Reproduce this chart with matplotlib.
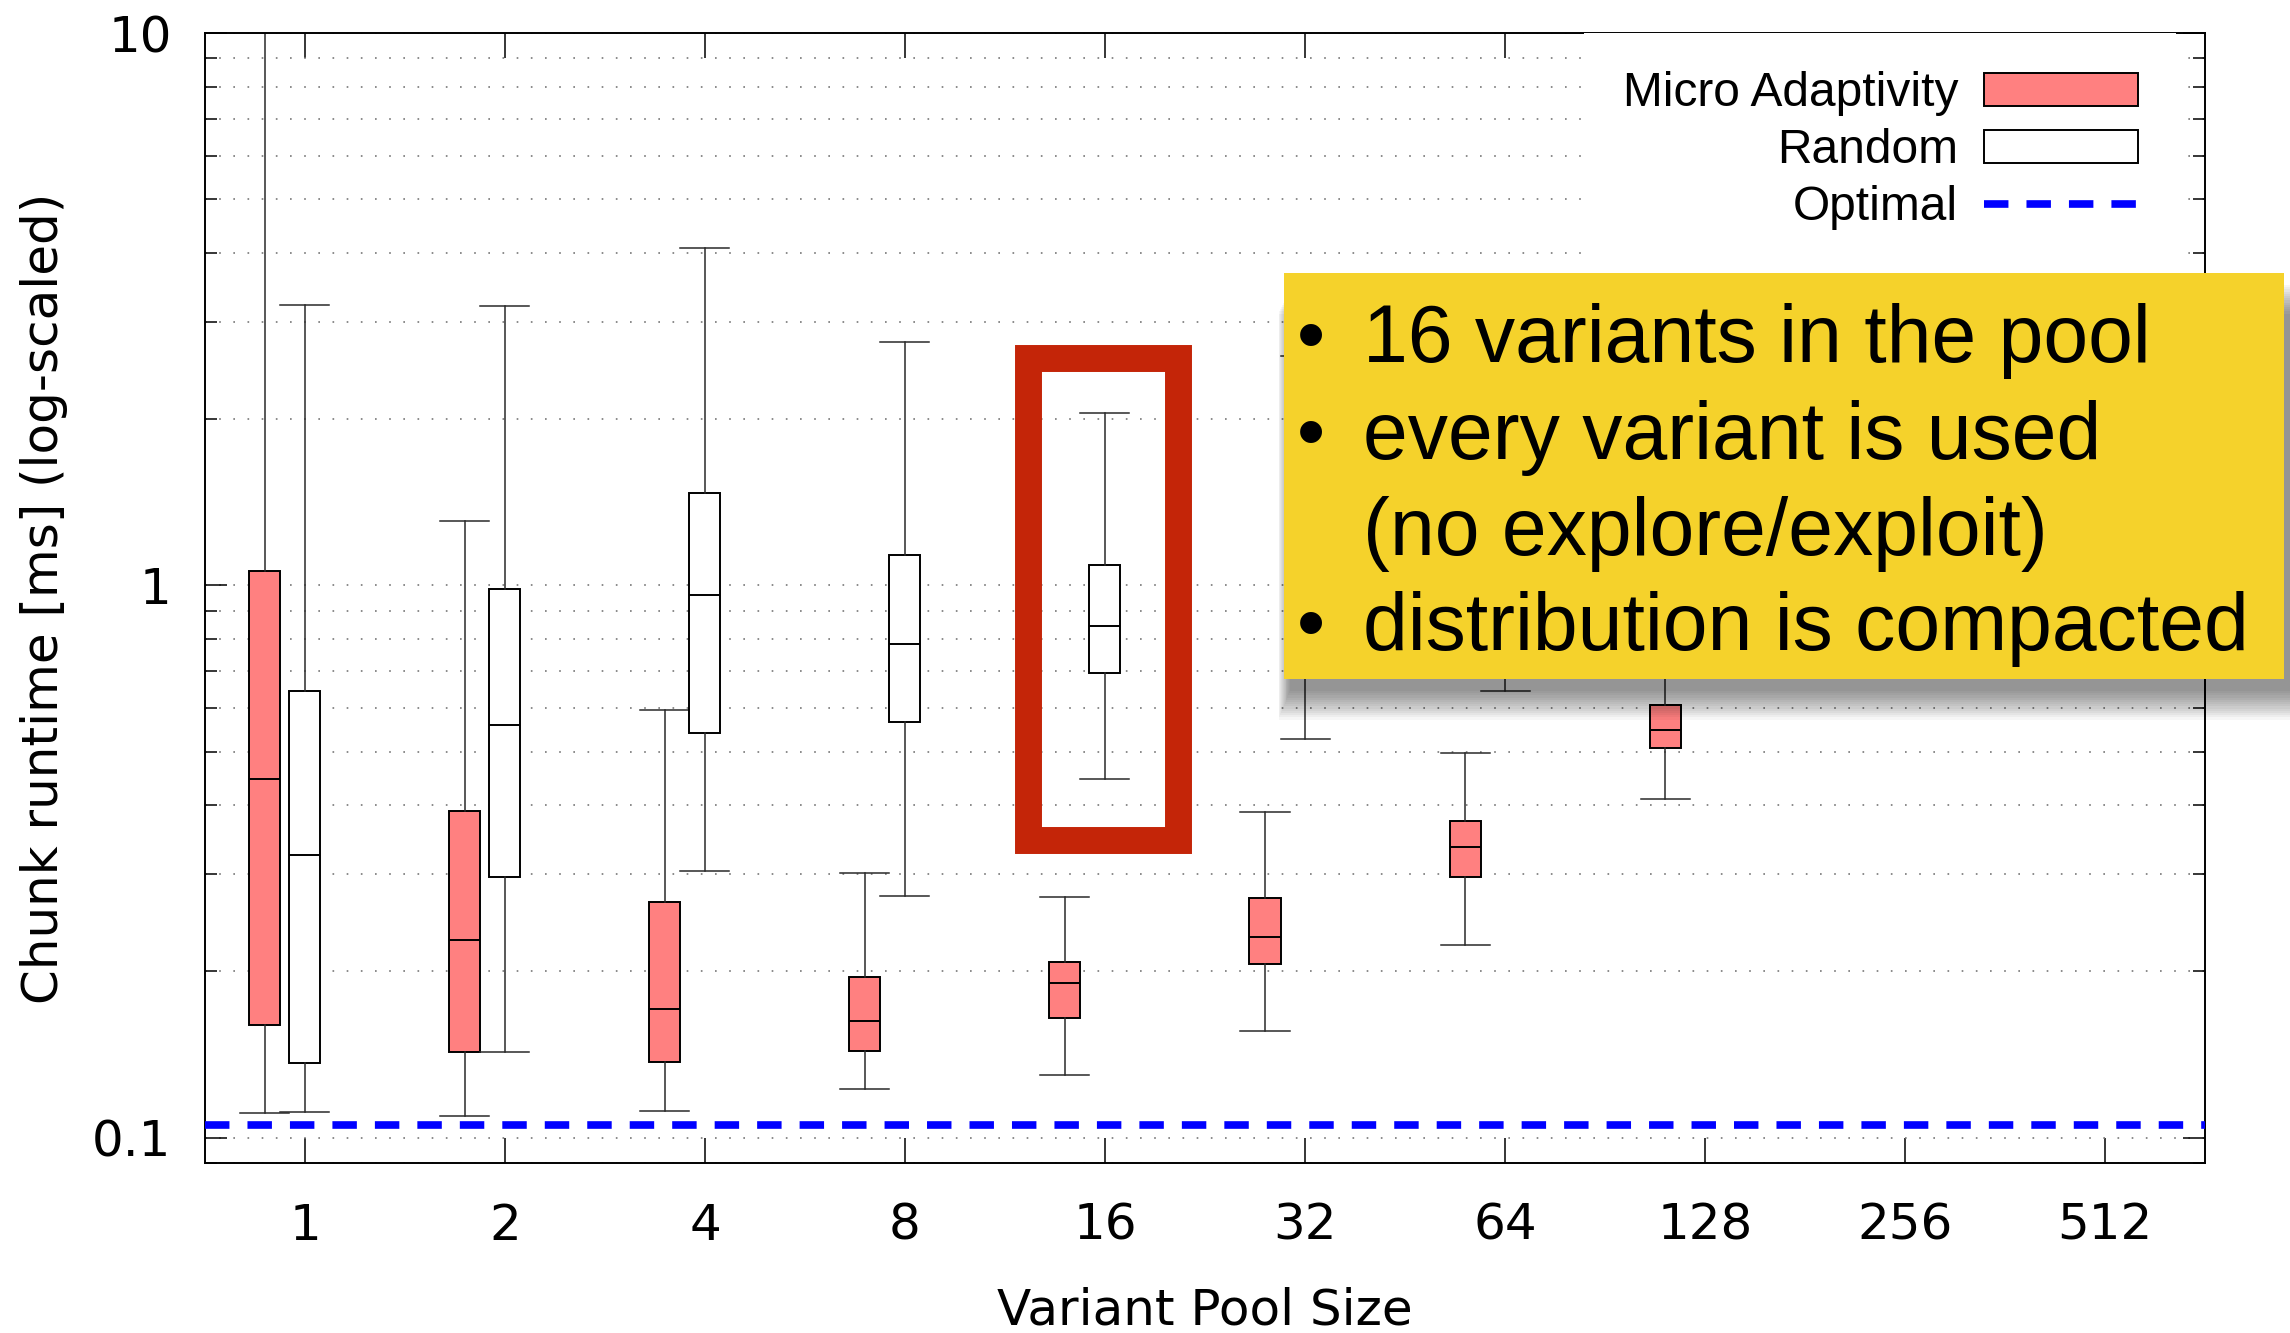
import numpy as np
import matplotlib.pyplot as plt
from matplotlib.patches import Rectangle, Patch
from matplotlib.lines import Line2D
from matplotlib.ticker import LogLocator, NullFormatter, FixedLocator

pool_sizes = ['1', '2', '4', '8', '16', '32', '64', '128', '256', '512']

# Micro Adaptivity box stats (pool 1 .. 128)
micro_lo = [0.1107, 0.1094, 0.112, 0.1223, 0.1297, 0.156, 0.223, 0.410]
micro_q1 = [0.1598, 0.1427, 0.1374, 0.1435, 0.1646, 0.206, 0.297, 0.507]
micro_med = [0.446, 0.228, 0.1708, 0.163, 0.191, 0.2306, 0.336, 0.548]
micro_q3 = [1.063, 0.391, 0.2676, 0.1954, 0.208, 0.272, 0.375, 0.607]
micro_hi = [12.0, 1.308, 0.596, 0.302, 0.273, 0.389, 0.497, 0.75]

# Random box stats (pool 1 .. 128)
rand_lo = [0.1115, 0.1427, 0.3044, 0.2745, 0.446, 0.527, 0.645, 0.75]
rand_q1 = [0.1367, 0.2968, 0.5416, 0.565, 0.695, 0.72, 0.78, 0.85]
rand_med = [0.3247, 0.5578, 0.959, 0.783, 0.844, 0.9, 0.95, 1.0]
rand_q3 = [0.643, 0.987, 1.473, 1.135, 1.09, 1.15, 1.2, 1.2]
rand_hi = [3.22, 3.20, 4.08, 2.76, 2.05, 2.6, 2.4, 2.2]

optimal = 0.1053

bullets = ['16 variants in the pool',
           'every variant is used',
           '(no explore/exploit)',
           'distribution is compacted']
has_bullet = [True, True, False, True]


def make_stats(lo, q1, med, q3, hi):
    return [dict(whislo=a, q1=b, med=c, q3=d, whishi=e, fliers=[])
            for a, b, c, d, e in zip(lo, q1, med, q3, hi)]


fig = plt.figure(figsize=(22.9, 13.33), dpi=100)
ax = fig.add_axes([0.0895, 0.1275, 0.8734, 0.8477])

x = np.arange(len(pool_sizes))
n = len(micro_med)

common = dict(widths=0.155, capwidths=0.245, patch_artist=True,
              showfliers=False, manage_ticks=False,
              medianprops=dict(color='black', linewidth=1.4),
              whiskerprops=dict(color='#2a2a2a', linewidth=1.1),
              capprops=dict(color='#2a2a2a', linewidth=1.1))

ax.bxp(make_stats(micro_lo, micro_q1, micro_med, micro_q3, micro_hi),
       positions=x[:n] - 0.2,
       boxprops=dict(facecolor='#FF8080', edgecolor='black', linewidth=1.4),
       **common)
ax.bxp(make_stats(rand_lo, rand_q1, rand_med, rand_q3, rand_hi),
       positions=x[:n],
       boxprops=dict(facecolor='white', edgecolor='black', linewidth=1.4),
       **common)

opt_dash = (0, (3.2, 2.36))
ax.axhline(optimal, color='#0000FF', linewidth=5.5, linestyle=opt_dash, zorder=4)

ax.set_yscale('log')
ax.set_ylim(0.09, 10)
ax.set_xlim(-0.5, len(pool_sizes) - 0.5)

ax.set_xticks(x)
ax.set_xticklabels(pool_sizes, fontsize=36)
ax.yaxis.set_major_locator(FixedLocator([0.1, 1, 10]))
ax.set_yticklabels(['0.1', '1', '10'], fontsize=36)
ax.yaxis.set_minor_locator(LogLocator(base=10, subs=np.arange(2, 10)))
ax.yaxis.set_minor_formatter(NullFormatter())

ax.tick_params(axis='x', which='major', direction='in', top=True, length=18, width=1.1, pad=28)
ax.tick_params(axis='y', which='major', direction='in', right=True, length=16, width=1.1, pad=24)
ax.tick_params(axis='y', which='minor', direction='in', right=True, length=8.5, width=1.1)
for s in ax.spines.values():
    s.set_linewidth(1.4)

ax.grid(axis='y', which='both', color='#777777', linewidth=1.2, linestyle=(0, (1, 7.5)))
ax.set_axisbelow(True)

ax.set_ylabel('Chunk runtime [ms] (log-scaled)', fontsize=36, va='center')
ax.yaxis.set_label_coords(-0.0805, 0.5)
ax.set_xlabel('Variant Pool Size', fontsize=36, va='baseline')
ax.xaxis.set_label_coords(0.5, -0.143)

handles = [Patch(facecolor='#FF8080', edgecolor='black', linewidth=1.4),
           Patch(facecolor='white', edgecolor='black', linewidth=1.4),
           Line2D([0], [0], color='#0000FF', linewidth=5.5, linestyle=opt_dash)]
leg = ax.legend(handles, ['Micro Adaptivity', 'Random', 'Optimal'],
                loc='upper right', bbox_to_anchor=(0.9855, 1.0), borderaxespad=0,
                markerfirst=False, handlelength=3.2, handletextpad=0.55,
                labelspacing=0.25, borderpad=0.8, fancybox=False,
                framealpha=1, facecolor='white', edgecolor='none',
                prop={'family': 'Liberation Sans', 'size': 34.5})
for t in leg.get_texts():
    t.set_ha('right')

# red highlight frame around pool 16 "Random"
i16 = pool_sizes.index('16')
ax.add_patch(Rectangle((i16 - 0.385, 0.346), 0.75, 2.585 - 0.346, fill=False,
                       edgecolor='#C42508', linewidth=19.4, joinstyle='miter',
                       zorder=6, clip_on=False))

# yellow annotation box with soft shadow (figure coords)
W, H = 2290.0, 1333.0
bx0, bx1, by0, by1 = 1284 / W, 2284 / W, 1 - 679 / H, 1 - 273 / H
for k in range(14):
    g = k * 2.2
    fig.add_artist(Rectangle((bx0 + (6 - g * 0.4) / W, by0 - (12 + g) / H),
                             bx1 - bx0 + g * 1.2 / W, by1 - by0,
                             transform=fig.transFigure, facecolor='black',
                             edgecolor='none', alpha=0.035, zorder=7))
fig.add_artist(Rectangle((bx0, by0), bx1 - bx0, by1 - by0, transform=fig.transFigure,
                         facecolor='#F5D22B', edgecolor='none', zorder=8))

ann_font = ['Liberation Sans', 'DejaVu Sans']
base_y = [362, 459, 555, 650]
for txt, b, yb in zip(bullets, has_bullet, base_y):
    if b:
        fig.text(1311 / W, 1 - yb / H, '•', fontsize=58, family=ann_font,
                 ha='center', va='baseline', zorder=9)
    fig.text(1363 / W, 1 - yb / H, txt, fontsize=58, family=ann_font,
             ha='left', va='baseline', zorder=9)

fig.savefig('out.png', dpi=100)
